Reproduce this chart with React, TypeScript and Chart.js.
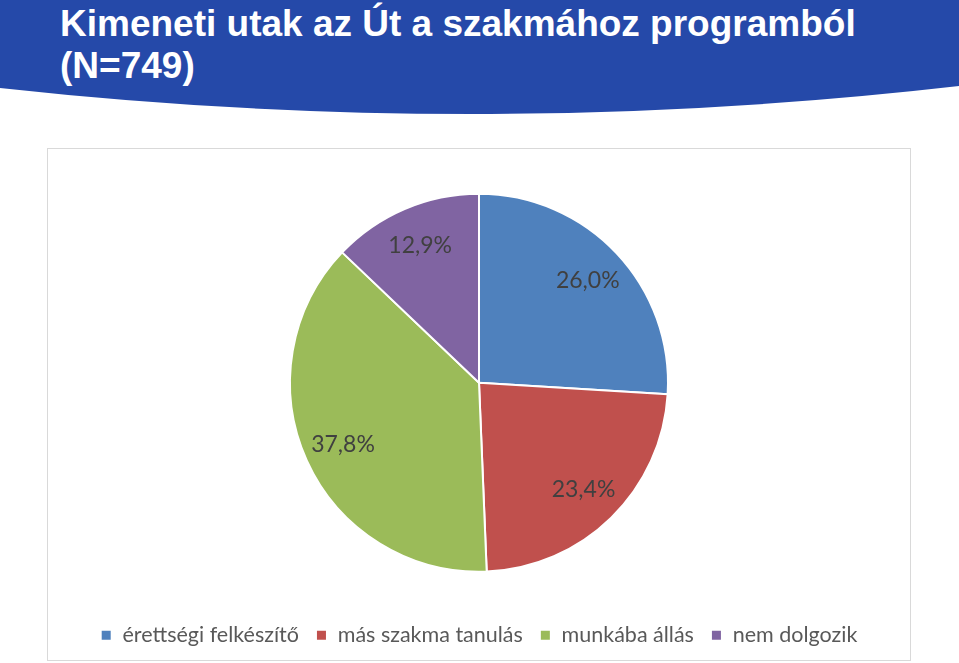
import React, { useEffect, useRef } from "react";
import { Chart, registerables } from "chart.js";

Chart.register(...registerables);

const TITLE_LINE_1 = "Kimeneti utak az Út a szakmához programból";
const TITLE_LINE_2 = "(N=749)";
const categories = ["érettségi felkészítő", "más szakma tanulás", "munkába állás", "nem dolgozik"];
const shares = [26.0, 23.4, 37.8, 12.9];
const colors = ["#4F81BD", "#C0504D", "#9BBB59", "#8064A2"];

const labelPlugin = {
  id: "sliceLabels",
  afterDatasetsDraw(chart: any) {
    const ctx = chart.ctx;
    const meta = chart.getDatasetMeta(0);
    ctx.save();
    ctx.font = "23px Lato, 'Open Sans', sans-serif";
    ctx.fillStyle = "#404040";
    ctx.textAlign = "center";
    ctx.textBaseline = "middle";
    meta.data.forEach((arc: any, i: number) => {
      const p = arc.getProps(["x", "y", "startAngle", "endAngle", "outerRadius"], true);
      const mid = (p.startAngle + p.endAngle) / 2;
      const r = p.outerRadius * 0.79;
      const txt = shares[i].toFixed(1).replace(".", ",") + "%";
      ctx.fillText(txt, p.x + Math.cos(mid) * r, p.y + Math.sin(mid) * r);
    });
    ctx.restore();
  },
};

function PieChart() {
  const ref = useRef<HTMLCanvasElement>(null);
  useEffect(() => {
    if (!ref.current) return;
    const chart = new Chart(ref.current, {
      type: "pie",
      data: {
        labels: categories,
        datasets: [
          {
            data: shares,
            backgroundColor: colors,
            borderColor: "#ffffff",
            borderWidth: 2,
            radius: 189,
          },
        ],
      },
      options: {
        animation: false,
        responsive: false,
        maintainAspectRatio: false,
        layout: { padding: { top: 9, bottom: 4 } },
        plugins: {
          tooltip: { enabled: false },
          legend: {
            position: "bottom",
            labels: {
              boxWidth: 11,
              boxHeight: 11,
              padding: 17,
              color: "#595959",
              font: { family: "Lato, 'Open Sans', sans-serif", size: 21.5 },
            },
          },
        },
      },
      plugins: [labelPlugin],
    });
    return () => chart.destroy();
  }, []);
  return <canvas ref={ref} width={862} height={511} style={{ width: 862, height: 511, display: "block" }} />;
}

export default function App() {
  useEffect(() => {
    document.body.style.margin = "0";
  }, []);
  return (
    <div style={{ position: "relative", width: 959, height: 663, background: "#ffffff", overflow: "hidden" }}>
      <svg width={959} height={130} style={{ position: "absolute", left: 0, top: 0 }}>
        <path d="M0,0 L959,0 L959,86 Q480,141 0,88 Z" fill="#2549A9" />
      </svg>
      <div
        style={{
          position: "absolute",
          left: 60,
          top: 3,
          color: "#ffffff",
          fontFamily: "'Liberation Sans', Arial, sans-serif",
          fontWeight: "bold",
          fontSize: 37,
          lineHeight: "42px",
          whiteSpace: "nowrap",
        }}
      >
        <div>{TITLE_LINE_1}</div>
        <div>{TITLE_LINE_2}</div>
      </div>
      <div
        style={{
          position: "absolute",
          left: 47,
          top: 148,
          width: 862,
          height: 511,
          border: "1px solid #D9D9D9",
        }}
      >
        <PieChart />
      </div>
    </div>
  );
}
